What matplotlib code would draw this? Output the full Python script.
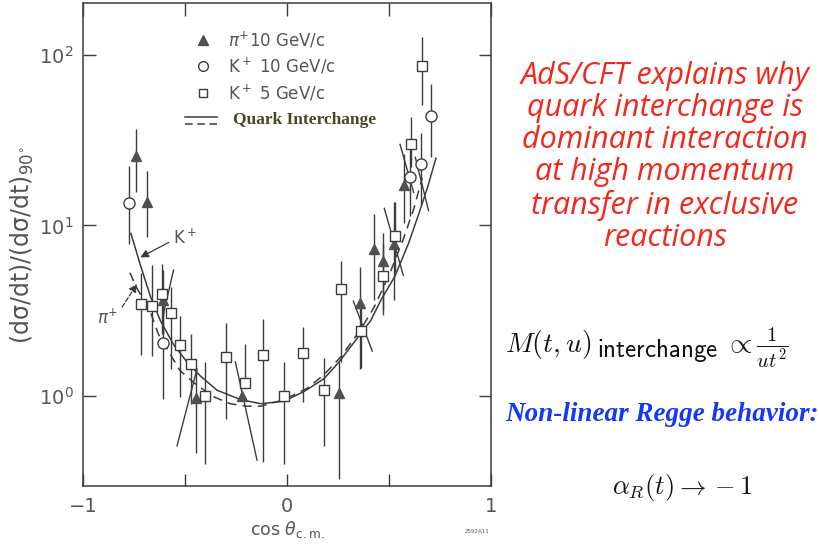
import numpy as np
import matplotlib.pyplot as plt

plt.rcParams['font.family'] = ['DejaVu Sans']

# pi+ 10 GeV/c (filled triangles)
pi10_x = [-0.740, -0.686, -0.609, -0.444, -0.219, 0.257, 0.359, 0.428, 0.471, 0.523, 0.572]
pi10_y = [25.5, 13.8, 3.67, 0.97, 1.00, 1.04, 3.51, 7.27, 6.22, 7.8, 17.3]
pi10_lo = [15.8, 8.57, 2.3, 0.465, 1.00, 0.327, 1.44, 3.67, 2.97, 3.67, 10.3]
pi10_hi = [36.7, 20.9, 5.5, 1.44, 1.00, 1.58, 5.74, 11.6, 8.98, 13.7, 26.4]

# K+ 10 GeV/c (open circles)
k10_x = [-0.776, -0.609, 0.605, 0.657, 0.708]
k10_y = [13.5, 2.04, 19.2, 23.0, 43.7]
k10_lo = [7.8, 0.96, 11.4, 13.1, 25.1]
k10_hi = [22.4, 3.67, 29.1, 35.1, 68.0]

# K+ 5 GeV/c (open squares)
k5_x = [-0.716, -0.662, -0.613, -0.567, -0.523, -0.469, -0.400, -0.299, -0.208, -0.119,
        -0.016, 0.078, 0.180, 0.266, 0.363, 0.469, 0.528, 0.609, 0.662]
k5_y = [3.46, 3.38, 3.98, 3.05, 2.00, 1.53, 1.00, 1.69, 1.19, 1.73,
        1.00, 1.79, 1.09, 4.23, 2.41, 5.03, 8.65, 30.0, 86.4]
k5_lo = [1.73, 1.71, 2.30, 1.44, 0.99, 0.90, 0.40, 0.73, 1.19, 0.41,
         0.40, 0.92, 0.51, 1.58, 1.45, 3.19, 5.36, 21.9, 51.0]
k5_hi = [5.28, 5.88, 5.93, 4.35, 2.93, 2.30, 1.58, 2.68, 2.02, 2.84,
         1.58, 2.55, 1.67, 6.16, 3.50, 7.80, 13.7, 43.3, 128.0]

# slanted error segments (x0, y0, x1, y1)
slant_bars = [(-0.539, 0.51, -0.441, 1.44),
              (-0.253, 1.58, -0.147, 0.42),
              (-0.556, 5.48, -0.605, 3.05),
              (0.325, 3.60, 0.418, 1.83),
              (0.477, 12.6, 0.570, 5.10),
              (0.554, 29.9, 0.621, 15.6),
              (0.629, 25.1, 0.694, 12.2)]

# quark interchange predictions
kplus_x = [-0.765, -0.719, -0.670, -0.621, -0.556, -0.490, -0.425, -0.343, -0.227, -0.129,
           -0.015, 0.083, 0.181, 0.255, 0.361, 0.410, 0.461, 0.528, 0.596, 0.647, 0.690, 0.730]
kplus_y = [8.98, 5.88, 3.85, 2.77, 2.00, 1.58, 1.31, 1.08, 0.95, 0.90,
           0.93, 1.06, 1.26, 1.58, 2.32, 2.76, 3.66, 5.01, 7.87, 11.8, 16.9, 24.8]
piplus_x = [-0.770, -0.737, -0.672, -0.631, -0.574, -0.525, -0.451, -0.361, -0.279, -0.200,
            -0.129, -0.015, 0.100, 0.181, 0.263, 0.361, 0.426, 0.503, 0.570, 0.621, 0.663]
piplus_y = [5.28, 4.31, 3.16, 2.31, 1.77, 1.41, 1.18, 0.99, 0.90, 0.87,
            0.87, 0.95, 1.11, 1.33, 1.69, 2.45, 3.30, 5.20, 8.30, 12.5, 19.0]

ink = '#3c3c3c'
txt = '#555555'

fig = plt.figure(figsize=(8.2, 5.46), dpi=100)
ax = fig.add_axes([0.1012, 0.1099, 0.4976, 0.8846])
ax.set_yscale('log')
ax.set_xlim(-1, 1)
ax.set_ylim(0.296, 202)

ax.plot(kplus_x, kplus_y, '-', color=ink, lw=1.1)
ax.plot(piplus_x, piplus_y, '--', color=ink, lw=1.1, dashes=(6, 4))

def bars(x, y, lo, hi):
    y = np.array(y)
    return [y - np.array(lo), np.array(hi) - y]

ax.errorbar(pi10_x, pi10_y, yerr=bars(pi10_x, pi10_y, pi10_lo, pi10_hi), fmt='^',
            ms=7, mfc='#505050', mec='#505050', ecolor=ink, elinewidth=1.0, capsize=0)
ax.errorbar(k10_x, k10_y, yerr=bars(k10_x, k10_y, k10_lo, k10_hi), fmt='o',
            ms=8, mfc='white', mec=ink, mew=1.0, ecolor=ink, elinewidth=1.0, capsize=0)
ax.errorbar(k5_x, k5_y, yerr=bars(k5_x, k5_y, k5_lo, k5_hi), fmt='s',
            ms=7, mfc='white', mec=ink, mew=1.0, ecolor=ink, elinewidth=1.0, capsize=0)
for x0, y0, x1, y1 in slant_bars:
    ax.plot([x0, x1], [y0, y1], color=ink, lw=1.0, zorder=1)

# curve labels
ax.annotate('K$\\mathregular{^+}$', xy=(-0.719, 6.5), xytext=(-0.56, 8.4), fontsize=12,
            color=txt, va='center',
            arrowprops=dict(arrowstyle='-|>', color=ink, lw=0.9,
                            relpos=(0, 0.4), shrinkA=1, shrinkB=0))
ax.annotate('$\\pi^\\mathregular{+}$', xy=(-0.735, 4.54), xytext=(-0.93, 2.85), fontsize=12,
            color=txt, va='center',
            arrowprops=dict(arrowstyle='-|>', color=ink, lw=0.9, ls='--',
                            relpos=(1, 0.8), shrinkA=1, shrinkB=0))

# key
ax.plot(0.295, 0.923, '^', ms=7, color='#505050', transform=ax.transAxes)
ax.plot(0.295, 0.870, 'o', ms=7, mfc='white', mec=ink, transform=ax.transAxes)
ax.plot(0.295, 0.814, 's', ms=6, mfc='white', mec=ink, transform=ax.transAxes)
ax.plot([0.25, 0.328], [0.764, 0.764], '-', color=ink, lw=1.1, transform=ax.transAxes)
ax.plot([0.25, 0.328], [0.750, 0.750], '--', color=ink, lw=1.1, dashes=(5, 3),
        transform=ax.transAxes)
key = ['$\\pi^\\mathregular{+}$10 GeV/c', 'K$\\mathregular{^+}$ 10 GeV/c',
       'K$\\mathregular{^+}$ 5 GeV/c']
for label, yk in zip(key, [0.923, 0.870, 0.814]):
    ax.text(0.355, yk, label, transform=ax.transAxes, fontsize=12, color=txt, va='center')
ax.text(0.368, 0.757, 'Quark Interchange', transform=ax.transAxes, fontsize=12.5,
        color='#4a4628', family='Liberation Serif', weight='bold', va='center')

ax.set_xticks([-1, -0.5, 0, 0.5, 1])
ax.set_xticklabels(['\u22121', '', '0', '', '1'])
ax.set_yticks([1, 10, 100])
ax.minorticks_off()
ax.tick_params(axis='both', direction='in', length=9, width=1.0, color=ink,
               labelsize=14, labelcolor=txt, top=True, right=True)
ax.tick_params(axis='x', pad=8)
ax.tick_params(axis='y', pad=7)
for s in ax.spines.values():
    s.set_color(ink)
    s.set_linewidth(1.1)

ax.set_xlabel('cos $\\theta_\\mathregular{c.m.}$', fontsize=12.5, color=txt, labelpad=2)
ax.set_ylabel('(d\u03c3/dt)/(d\u03c3/dt)$_\\mathregular{90^{\\circ}}$', fontsize=17,
              color=txt, labelpad=2)
fig.text(0.567, 0.024, '2592A11', fontsize=4, color=txt)

# commentary on the right
fig.text(0.811, 0.7125, 'AdS/CFT explains why\nquark interchange is\ndominant interaction\n'
         'at high momentum\ntransfer in exclusive\nreactions',
         ha='center', va='center', fontsize=22, color='#f2281c', family='Open Sans',
         style='italic', linespacing=1.09)

# amplitude scaling with a full-size sans subscript, pieces set one after another
renderer = fig.canvas.get_renderer()
inv = fig.transFigure.inverted()
base = 1 - 352 / 546
part = fig.text(505 / 820, base, r'$M(t,u)$', fontsize=20, math_fontfamily='cm',
                va='baseline', color='#111111')
x_end = inv.transform(part.get_window_extent(renderer))[1, 0]
part = fig.text(x_end + 6 / 820, base - 5 / 546, r'$\mathsf{interchange}$', fontsize=18,
                math_fontfamily='cm', va='baseline', color='#111111')
x_end = inv.transform(part.get_window_extent(renderer))[1, 0]
fig.text(x_end + 5 / 820, base, r'$\propto \frac{1}{ut^2}$', fontsize=21,
         math_fontfamily='cm', va='baseline', color='#111111')

fig.text(0.616, 0.240, 'Non-linear Regge behavior:', fontsize=19.5, color='#1637f5',
         family='Liberation Serif', weight='bold', style='italic', va='center')
fig.text(0.746, 0.108, r'$\alpha_R(t) \rightarrow -\mathsf{1}$', fontsize=19,
         math_fontfamily='cm', va='center', color='#111111')

fig.savefig('out.png', dpi=100)
